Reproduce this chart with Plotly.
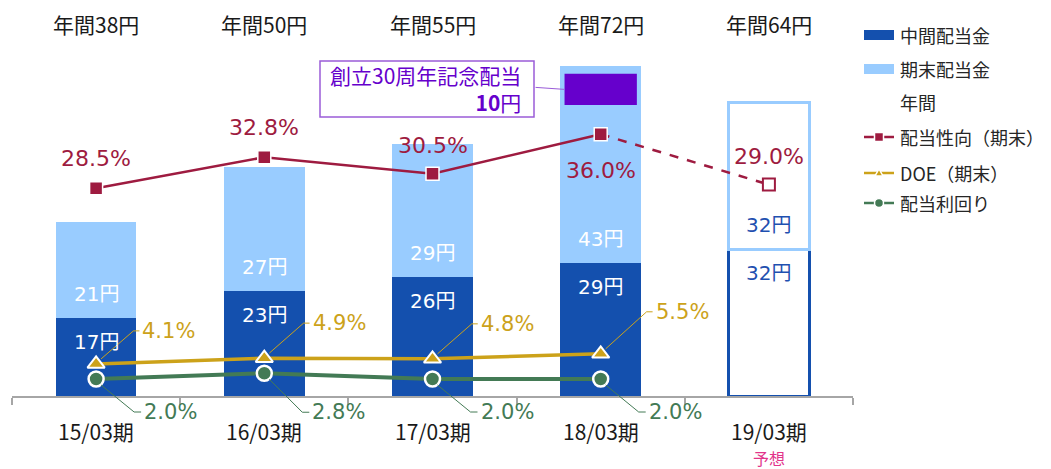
import plotly.graph_objects as go

# ---------------- data ----------------
categories = ["15/03期", "16/03期", "17/03期", "18/03期", "19/03期"]
interim = [17, 23, 26, 29, 32]          # 中間配当金
year_end = [21, 27, 29, 43, 32]         # 期末配当金
commemorative = [0, 0, 0, 10, 0]        # 創立30周年記念配当 (included in year_end)
payout = [28.5, 32.8, 30.5, 36.0, 29.0]  # 配当性向（期末）
doe = [4.1, 4.9, 4.8, 5.5]              # DOE（期末）
div_yield = [2.0, 2.8, 2.0, 2.0]        # 配当利回り
forecast_idx = 4
forecast_note = "予想"
legend_labels = ["中間配当金", "期末配当金", "年間", "配当性向（期末）", "DOE（期末）", "配当利回り"]

annual = [a + b for a, b in zip(interim, year_end)]
xs = list(range(len(categories)))

# ---------------- style ----------------
DARK = "#1450AE"
LIGHT = "#99CCFF"
CRIMSON = "#9E1B40"
GOLD = "#CCA21A"
GREEN = "#437A55"
PURPLE = "#6600CC"
PURPLE_BORDER = "#9A5CD8"
PINK = "#E2348A"
TXT = "#1A1A1A"
NUM_FONT = "DejaVu Sans, Noto Sans CJK JP"
JP_FONT = "Noto Sans CJK JP, Liberation Sans"

# page is rendered with an 8px body margin
OFF = 8
W, H = 1051 - OFF, 469 - OFF
PL, PR, PT, PB = 12, 853, 11, 396  # plot area in page pixels
Y2 = [-0.36, 53.11]


def pxx(p):
    return (p - PL) / (PR - PL)


def pxy(p):
    return (PB - p) / (PB - PT)


def y2paper(v):
    return (v - Y2[0]) / (Y2[1] - Y2[0])


fig = go.Figure()

n = len(categories)
fill_mid = [DARK if i != forecast_idx else "white" for i in xs]
fill_end = [LIGHT if i != forecast_idx else "white" for i in xs]
lw = [0 if i != forecast_idx else 3 for i in xs]

fig.add_trace(go.Bar(
    x=xs, y=interim, width=0.48,
    marker=dict(color=fill_mid, line=dict(color=DARK, width=lw)),
    showlegend=False, hoverinfo="skip"))
fig.add_trace(go.Bar(
    x=xs, y=year_end, width=0.48,
    marker=dict(color=fill_end, line=dict(color=LIGHT, width=lw)),
    showlegend=False, hoverinfo="skip"))

# payout ratio lines
fig.add_trace(go.Scatter(
    x=xs[forecast_idx - 1:], y=payout[forecast_idx - 1:], yaxis="y2",
    mode="lines", line=dict(color=CRIMSON, width=2.5, dash="dash"),
    showlegend=False, hoverinfo="skip"))
fig.add_trace(go.Scatter(
    x=xs[:forecast_idx], y=payout[:forecast_idx], yaxis="y2",
    mode="lines+markers", line=dict(color=CRIMSON, width=2.5),
    marker=dict(symbol="square", size=13, color=CRIMSON, line=dict(color="white", width=1.5)),
    showlegend=False, hoverinfo="skip"))
fig.add_trace(go.Scatter(
    x=[xs[forecast_idx]], y=[payout[forecast_idx]], yaxis="y2",
    mode="markers",
    marker=dict(symbol="square", size=12, color="white", line=dict(color=CRIMSON, width=2)),
    showlegend=False, hoverinfo="skip"))

# dividend yield
fig.add_trace(go.Scatter(
    x=xs[:len(div_yield)], y=div_yield, yaxis="y2",
    mode="lines+markers", line=dict(color=GREEN, width=4),
    marker=dict(symbol="circle", size=15, color=GREEN, line=dict(color="white", width=2.5)),
    showlegend=False, hoverinfo="skip"))

# DOE
fig.add_trace(go.Scatter(
    x=xs[:len(doe)], y=doe, yaxis="y2",
    mode="lines+markers", line=dict(color=GOLD, width=3.5),
    marker=dict(symbol="triangle-up", size=15, color=GOLD, line=dict(color="white", width=2)),
    showlegend=False, hoverinfo="skip"))

ann = []
shapes = []

# annual totals on top, category labels below
for i in xs:
    ann.append(dict(x=i, y=pxy(24), xref="x", yref="paper", yanchor="middle",
                    text=f"年間{annual[i]}円", showarrow=False,
                    font=dict(family=JP_FONT, size=21, color=TXT)))
    ann.append(dict(x=i, y=pxy(431), xref="x", yref="paper", yanchor="middle",
                    text=categories[i], showarrow=False,
                    font=dict(family=JP_FONT, size=21, color=TXT)))
ann.append(dict(x=forecast_idx, y=pxy(458), xref="x", yref="paper", yanchor="middle",
                text=forecast_note, showarrow=False,
                font=dict(family=JP_FONT, size=16, color=PINK)))

# bar value labels
for i in xs:
    c = "white" if i != forecast_idx else "#1F50B0"
    ann.append(dict(x=i, y=interim[i], xref="x", yref="y", text=f"{interim[i]}円",
                    yshift=-24, showarrow=False, font=dict(family=NUM_FONT, size=20, color=c)))
    ann.append(dict(x=i, y=interim[i], xref="x", yref="y", text=f"{year_end[i]}円",
                    yshift=24, showarrow=False, font=dict(family=NUM_FONT, size=20, color=c)))

# payout labels
payout_pos = [30, 30, 28, -36, 28]
for i in xs:
    ann.append(dict(x=i, y=payout[i], xref="x", yref="y2", text=f"{payout[i]:.1f}%",
                    yshift=payout_pos[i], showarrow=False,
                    font=dict(family=NUM_FONT, size=22, color=CRIMSON)))

# DOE labels with leader lines
doe_dy = [33, 35, 35, 42]
for i, v in enumerate(doe):
    dy = doe_dy[i]
    ex = dy * 0.95 + 6
    shapes.append(dict(type="line", xref="x", yref="paper", xsizemode="pixel", ysizemode="pixel",
                       xanchor=i, yanchor=y2paper(v), x0=5, y0=5, x1=ex, y1=dy,
                       line=dict(color=GOLD, width=1), layer="above"))
    shapes.append(dict(type="line", xref="x", yref="paper", xsizemode="pixel", ysizemode="pixel",
                       xanchor=i, yanchor=y2paper(v), x0=ex, y0=dy, x1=ex + 6, y1=dy,
                       line=dict(color=GOLD, width=1), layer="above"))
    ann.append(dict(x=i, y=v, xref="x", yref="y2", text=f"{v:.1f}%", xanchor="left",
                    xshift=ex + 7, yshift=dy, showarrow=False,
                    font=dict(family=NUM_FONT, size=21, color=GOLD)))

# yield labels with leader lines
yl_dy = [-33, -39, -33, -33]
for i, v in enumerate(div_yield):
    dy = yl_dy[i]
    shapes.append(dict(type="line", xref="x", yref="paper", xsizemode="pixel", ysizemode="pixel",
                       xanchor=i, yanchor=y2paper(v), x0=5, y0=-6, x1=38, y1=dy,
                       line=dict(color=GREEN, width=1), layer="above"))
    shapes.append(dict(type="line", xref="x", yref="paper", xsizemode="pixel", ysizemode="pixel",
                       xanchor=i, yanchor=y2paper(v), x0=38, y0=dy, x1=45, y1=dy,
                       line=dict(color=GREEN, width=1), layer="above"))
    ann.append(dict(x=i, y=v, xref="x", yref="y2", text=f"{v:.1f}%", xanchor="left",
                    xshift=46, yshift=dy, showarrow=False,
                    font=dict(family=NUM_FONT, size=21, color=GREEN)))

# commemorative dividend rectangle + callout
ci = commemorative.index(max(commemorative))
rect_mid = annual[ci] - 5.1
shapes.append(dict(type="rect", xref="x", yref="y", x0=ci - 0.215, x1=ci + 0.215,
                   y0=annual[ci] - 8.5, y1=annual[ci] - 1.7,
                   fillcolor=PURPLE, line=dict(width=0), layer="above"))
shapes.append(dict(type="rect", xref="paper", yref="paper", x0=pxx(320), x1=pxx(534),
                   y0=pxy(117), y1=pxy(61), fillcolor="white",
                   line=dict(color=PURPLE_BORDER, width=1.5), layer="above"))
shapes.append(dict(type="line", xref="x", yref="y", xsizemode="pixel", ysizemode="pixel",
                   xanchor=ci - 0.215, yanchor=rect_mid, x0=-29, y0=2, x1=0, y1=0,
                   line=dict(color=PURPLE_BORDER, width=1), layer="above"))
ann.append(dict(x=pxx(523), y=pxy(89), xref="paper", yref="paper", xanchor="right",
                yanchor="middle", align="right",
                text=f"創立30周年記念配当<br><b>{commemorative[ci]}</b>円", showarrow=False,
                font=dict(family=JP_FONT, size=21, color=PURPLE)))

# ---------------- custom legend ----------------
lx0, lx1, ltx = 864, 894, 898
rows = [35, 69, 102, 137, 173, 203]
shapes.append(dict(type="rect", xref="paper", yref="paper", x0=pxx(lx0), x1=pxx(lx1),
                   y0=pxy(rows[0] + 5), y1=pxy(rows[0] - 5), fillcolor=DARK, line=dict(width=0)))
shapes.append(dict(type="rect", xref="paper", yref="paper", x0=pxx(lx0), x1=pxx(lx1),
                   y0=pxy(rows[1] + 5), y1=pxy(rows[1] - 5), fillcolor=LIGHT, line=dict(width=0)))
for r, col in zip(rows[3:], [CRIMSON, GOLD, GREEN]):
    shapes.append(dict(type="line", xref="paper", yref="paper", x0=pxx(lx0), x1=pxx(lx1),
                       y0=pxy(r), y1=pxy(r), line=dict(color=col, width=2.5)))
mx = pxx((lx0 + lx1) / 2)
shapes.append(dict(type="rect", xref="paper", yref="paper", xsizemode="pixel", ysizemode="pixel",
                   xanchor=mx, yanchor=pxy(rows[3]), x0=-4.5, x1=4.5, y0=-4.5, y1=4.5,
                   fillcolor=CRIMSON, line=dict(color="white", width=1.5)))
shapes.append(dict(type="path", xref="paper", yref="paper", xsizemode="pixel", ysizemode="pixel",
                   xanchor=mx, yanchor=pxy(rows[4]), path="M-4,-3 L4,-3 L0,4 Z",
                   fillcolor=GOLD, line=dict(color="white", width=1.5)))
shapes.append(dict(type="circle", xref="paper", yref="paper", xsizemode="pixel", ysizemode="pixel",
                   xanchor=mx, yanchor=pxy(rows[5]), x0=-4.5, x1=4.5, y0=-4.5, y1=4.5,
                   fillcolor=GREEN, line=dict(color="white", width=1.5)))
for r, t in zip(rows, legend_labels):
    ann.append(dict(x=pxx(ltx), y=pxy(r), xref="paper", yref="paper", text=t,
                    xanchor="left", yanchor="middle", showarrow=False,
                    font=dict(family=JP_FONT, size=18, color="#262626")))

fig.update_layout(
    width=W, height=H,
    margin=dict(l=PL - OFF, r=W - (PR - OFF), t=PT - OFF, b=H - (PB - OFF), pad=0),
    paper_bgcolor="white", plot_bgcolor="white",
    barmode="stack",
    xaxis=dict(range=[-0.5, n - 0.5], tickvals=[i - 0.5 for i in range(n + 1)],
               ticktext=[""] * (n + 1), ticks="outside", ticklen=7, tickcolor="#A6A6A6",
               tickwidth=1.5, showline=True, linecolor="#A6A6A6", linewidth=1.5,
               showgrid=False, zeroline=False, fixedrange=True),
    yaxis=dict(range=[0, 84], visible=False, fixedrange=True),
    yaxis2=dict(range=Y2, overlaying="y", visible=False, fixedrange=True),
    annotations=ann, shapes=shapes, showlegend=False,
)

fig.write_html("out.html")
